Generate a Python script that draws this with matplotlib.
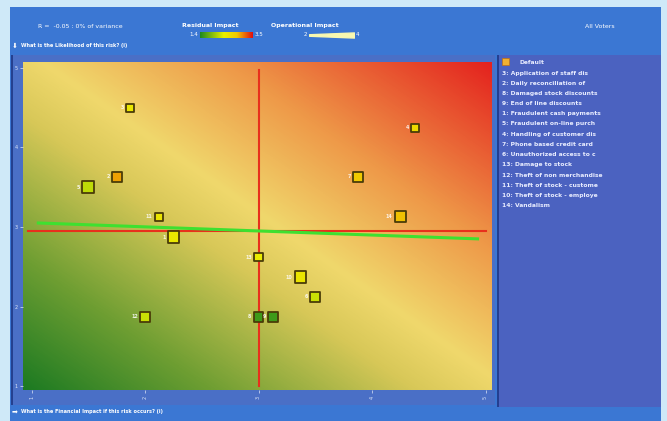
import numpy as np
import matplotlib
matplotlib.use("Agg")
import matplotlib.pyplot as plt
from matplotlib.colors import LinearSegmentedColormap
from matplotlib.patches import Rectangle

# ---------------- data ----------------
labels = ["3", "4", "2", "5", "7", "11", "14", "1", "13", "10", "6", "12", "8", "9"]
financial = [1.87, 4.38, 1.75, 1.50, 3.88, 2.12, 4.25, 2.25, 3.00, 3.37, 3.50, 2.00, 3.00, 3.13]
likelihood = [4.50, 4.25, 3.63, 3.50, 3.63, 3.13, 3.13, 2.87, 2.62, 2.37, 2.12, 1.87, 1.87, 1.87]
residual = [2.45, 2.65, 3.0, 2.15, 2.85, 2.5, 2.9, 2.45, 2.4, 2.5, 2.2, 2.2, 1.55, 1.55]
operational = [2.5, 2.5, 3.0, 3.5, 3.0, 2.5, 3.5, 3.5, 2.5, 3.5, 3.0, 3.0, 3.0, 3.0]

legend_items = ["3: Application of staff dis", "2: Daily reconciliation of",
                "8: Damaged stock discounts", "9: End of line discounts",
                "1: Fraudulent cash payments", "5: Fraudulent on-line purch",
                "4: Handling of customer dis", "7: Phone based credit card",
                "6: Unauthorized access to c", "13: Damage to stock",
                "12: Theft of non merchandise", "11: Theft of stock - custome",
                "10: Theft of stock - employe", "14: Vandalism"]

r_value = -0.05
reg_intercept = 3.105
reg_slope = -0.0516
reg_x = [1.06, 4.93]
mean_x = 3.0
mean_y = 2.95
x_ticks = [1, 2, 3, 4, 5]
y_ticks = [1, 2, 3, 4, 5]
res_range = [1.4, 3.5]
op_range = [2, 4]

# ---------------- figure ----------------
W, H = 667, 421
fig = plt.figure(figsize=(W / 100, H / 100), dpi=100)
fig.patch.set_facecolor("#cfe9f8")

def px_rect(x0, y0, x1, y1, color, z=-5, ec="none", lw=0):
    fig.patches.append(Rectangle((x0 / W, 1 - y1 / H), (x1 - x0) / W, (y1 - y0) / H,
                                 transform=fig.transFigure, facecolor=color,
                                 edgecolor=ec, linewidth=lw, zorder=z))

px_rect(10, 7, 661, 421, "#3b77d3", z=-5)
px_rect(12, 55, 495, 405, "#4a6fc6", z=-4)
px_rect(11, 55, 13, 405, "#24408f", z=-3)
px_rect(497, 55, 661, 407, "#4b62c0", z=-4)
px_rect(497, 55, 499, 407, "#243f90", z=-3)

# ---------------- axes ----------------
ax = fig.add_axes([23 / W, 1 - 390 / H, 469 / W, 328 / H])
ax.set_zorder(5)
ax.set_xlim(0.925, 5.057)
ax.set_ylim(0.95, 5.075)

bg = LinearSegmentedColormap.from_list("bg", [
    (0.0, "#1c7a22"), (0.2, "#6e9e32"), (0.42, "#d8c858"),
    (0.52, "#f0d86c"), (0.72, "#ee9848"), (1.0, "#e4221e")])
gx, gy = np.meshgrid(np.linspace(0, 1, 300), np.linspace(0, 1, 300))
ax.imshow((gx + gy) / 2, cmap=bg, extent=[0.925, 5.057, 0.95, 5.075],
          origin="lower", aspect="auto", zorder=0, vmin=0, vmax=1)

res_cmap = LinearSegmentedColormap.from_list("res", [
    (0.0, "#1e8a1e"), (0.45, "#e8f000"), (0.7, "#f0c800"), (1.0, "#e01010")])

# crosshair
ax.plot([mean_x, mean_x], [1.0, 4.97], color="#e8301c", lw=1.5, zorder=2)
ax.plot([0.97, 5.0], [mean_y, mean_y], color="#e8301c", lw=1.5, zorder=2)
# regression line
rx = np.array(reg_x)
ax.plot(rx, reg_intercept + reg_slope * rx, color="#3ee030", lw=2.2, zorder=3)

# markers
op = np.array(operational)
sizes = (4.5 + (op - op_range[0]) * 2.6) ** 2
ax.scatter(financial, likelihood, s=sizes, marker="s",
           c=residual, cmap=res_cmap, vmin=res_range[0], vmax=res_range[1],
           edgecolors="#4a3c08", linewidths=1.3, zorder=4)
for lab, x, y, sz in zip(labels, financial, likelihood, sizes):
    ax.annotate(lab, (x, y), xytext=(-np.sqrt(sz) / 2 - 1.5, 0), textcoords="offset points",
                ha="right", va="center", fontsize=3.5, color="white", alpha=0.85,
                fontweight="bold", zorder=5)

ax.set_xticks(x_ticks)
ax.set_yticks(y_ticks)
ax.set_xticklabels([str(t) for t in x_ticks], rotation=90, fontsize=3.5, color="#dde6f8")
ax.set_yticklabels([str(t) for t in y_ticks], fontsize=3.5, color="#dde6f8")
ax.tick_params(length=2, width=0.5, color="#dde6f8", pad=2)
for sp in ax.spines.values():
    sp.set_visible(False)

# ---------------- header ----------------
hdr = dict(color="white", fontsize=4.5, va="center")
fig.text(80 / W, 1 - 26 / H, "R =  %.2f : 0%% of variance" % r_value, ha="center", **hdr)
fig.text(210 / W, 1 - 26 / H, "Residual Impact", ha="center", fontweight="bold", **hdr)
fig.text(305 / W, 1 - 26 / H, "Operational Impact", ha="center", fontweight="bold", **hdr)
fig.text(600 / W, 1 - 26 / H, "All Voters", ha="center", **hdr)

cax = fig.add_axes([200 / W, 1 - 38 / H, 53 / W, 6 / H])
cax.set_zorder(5)
cax.imshow(np.linspace(0, 1, 100)[None, :], cmap=res_cmap, aspect="auto")
cax.axis("off")
fig.text(198 / W, 1 - 35 / H, "%.1f" % res_range[0], ha="right", color="white", fontsize=4, va="center")
fig.text(255 / W, 1 - 35 / H, "%.1f" % res_range[1], ha="left", color="white", fontsize=4, va="center")

oax = fig.add_axes([309 / W, 1 - 38 / H, 45 / W, 6 / H])
oax.set_zorder(5)
oax.set_xlim(0, 1); oax.set_ylim(-1, 1)
xx = np.linspace(0, 1, 50)
oax.fill_between(xx, -0.25 - 0.6 * xx, 0.25 + 0.6 * xx, color="#f8f8b0")
oax.axis("off")
fig.text(307 / W, 1 - 35 / H, "%d" % op_range[0], ha="right", color="white", fontsize=4, va="center")
fig.text(356 / W, 1 - 35 / H, "%d" % op_range[1], ha="left", color="white", fontsize=4, va="center")

fig.text(12 / W, 1 - 46 / H, "\u2b07", color="white", fontsize=5, va="center", ha="left")
fig.text(21 / W, 1 - 46 / H, "What is the Likelihood of this risk? (i)", color="white",
         fontsize=3.6, fontweight="bold", va="center", ha="left")
fig.text(12 / W, 1 - 412 / H, "\u27a1", color="white", fontsize=5, va="center", ha="left")
fig.text(21 / W, 1 - 412 / H, "What is the Financial Impact if this risk occurs? (i)",
         color="white", fontsize=3.6, fontweight="bold", va="center", ha="left")

# ---------------- legend ----------------
px_rect(502, 58, 509, 65, "#f0b030", z=3, ec="#c07010", lw=0.5)
fig.text(520 / W, 1 - 62 / H, "Default", color="#e8ecff", fontsize=4.3,
         fontweight="bold", va="center", ha="left")
for i, t in enumerate(legend_items):
    fig.text(502 / W, 1 - (73 + i * 10.2) / H, t, color="#e8ecff", fontsize=4.3,
             fontweight="bold", va="center", ha="left")

fig.savefig("out.png", dpi=100, facecolor=fig.get_facecolor())
